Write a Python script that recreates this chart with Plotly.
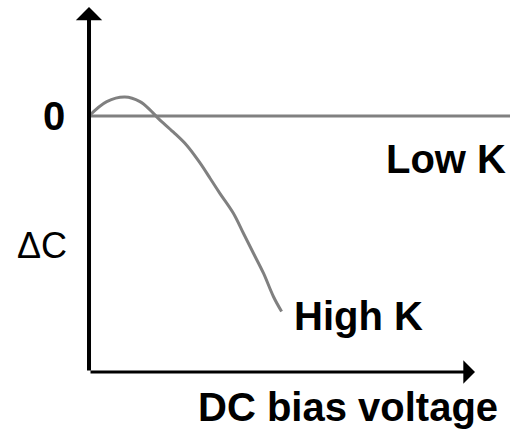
import plotly.graph_objects as go

# High-K curve: change in capacitance vs DC bias voltage (arbitrary units)
bias_high_k = [0.0, 0.46, 0.93, 1.32, 1.58, 1.80, 2.18, 2.53, 2.88, 3.14, 3.39,
               3.74, 4.00, 4.26, 4.52, 4.78, 4.99]
dc_high_k = [0.0, 0.28, 0.37, 0.28, 0.12, -0.05, -0.31, -0.57, -0.92, -1.22, -1.51,
             -1.90, -2.29, -2.68, -3.07, -3.53, -3.82]

# Low-K: flat at zero
bias_low_k = [0.0, 11.0]
dc_low_k = [0.0, 0.0]

x_range = [-2.306, 10.907]
y_range = [-6.230, 2.266]
x_axis_end = 10.0
y_axis_bottom = -5.0
y_axis_top = 2.129

fig = go.Figure()
fig.add_trace(go.Scatter(x=bias_low_k, y=dc_low_k, mode="lines",
                         line=dict(color="#808080", width=3), hoverinfo="skip"))
fig.add_trace(go.Scatter(x=bias_high_k, y=dc_high_k, mode="lines",
                         line=dict(color="#808080", width=3, shape="spline"),
                         hoverinfo="skip"))

font_bold = dict(family="Liberation Sans, Arial", size=40, color="black", weight="bold")

annotations = [
    # axes with arrowheads
    dict(x=0, y=y_axis_top, ax=0, ay=y_axis_bottom, xref="x", yref="y",
         axref="x", ayref="y", showarrow=True, arrowhead=1, arrowsize=1.1,
         arrowwidth=4, arrowcolor="black", text=""),
    dict(x=x_axis_end, y=y_axis_bottom, ax=0, ay=y_axis_bottom, xref="x", yref="y",
         axref="x", ayref="y", showarrow=True, arrowhead=1, arrowsize=1.3,
         arrowwidth=3, arrowcolor="black", text=""),
    dict(x=-0.907, y=0.0, text="0", showarrow=False, font=font_bold,
         xanchor="center", yanchor="middle"),
    dict(x=-1.218, y=-2.52, text="ΔC", showarrow=False,
         font=dict(family="Liberation Sans, Arial", size=36, color="black"),
         xanchor="center", yanchor="middle"),
    dict(x=9.249, y=-0.84, text="Low K", showarrow=False, font=font_bold,
         xanchor="center", yanchor="middle"),
    dict(x=6.98, y=-3.90, text="High K", showarrow=False, font=font_bold,
         xanchor="center", yanchor="middle"),
    dict(x=6.70, y=-5.68, text="DC bias voltage", showarrow=False, font=font_bold,
         xanchor="center", yanchor="middle"),
]

fig.update_layout(
    width=510, height=435,
    margin=dict(l=0, r=0, t=0, b=0),
    paper_bgcolor="white", plot_bgcolor="white",
    showlegend=False,
    xaxis=dict(range=x_range, visible=False, fixedrange=True),
    yaxis=dict(range=y_range, visible=False, fixedrange=True),
    annotations=annotations,
)

fig.write_html("out.html", config={"displayModeBar": False},
               post_script="document.body.style.margin='0';")
